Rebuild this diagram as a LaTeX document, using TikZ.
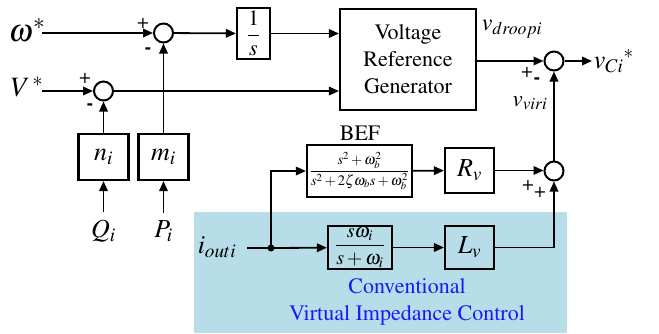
\documentclass[tikz,border=0pt]{standalone}
\usepackage{amsmath,amssymb}
\usepackage[T1]{fontenc}
\usepackage{mathptmx}
\usepackage{tikz}
\usetikzlibrary{arrows.meta}
\definecolor{vicbg}{HTML}{B7DEE8}
\definecolor{vicblue}{HTML}{1A1AF5}

\begin{document}
\begin{tikzpicture}[x=1pt, y=-1pt, line width=1.8pt,
  blk/.style={draw, line width=2.2pt, inner sep=0pt, align=center,
              font=\fontsize{22}{27}\selectfont},
  sum/.style={draw, circle, minimum size=19pt, inner sep=0pt, line width=2pt},
  sig/.style={-{Triangle[length=10pt, width=8.5pt]}},
  sgn/.style={inner sep=0pt, font=\fontsize{20}{20}\selectfont},
  lbl/.style={inner sep=1pt, font=\fontsize{26}{26}\selectfont}]

  \useasboundingbox (0,0) rectangle (659,333);

  % -- the shaded part: conventional virtual impedance ----------------------
  \fill[vicbg] (194,212) rectangle (567,333);
  \node[text=vicblue, align=center, font=\fontsize{22}{27}\selectfont] (victext)
    at (407,302) {Conventional\\Virtual Impedance Control};

  % -- droop part --------------------------------------------------------
  \node[lbl, font=\fontsize{32}{32}\selectfont] (wref) at (27,30) {$\omega^{*}$};
  \node[lbl, font=\fontsize{28}{28}\selectfont] (vref) at (27,87) {$V^{\,*}$};
  \coordinate (ws) at (42,33);
  \coordinate (vs) at (42,91);
  \node[sum] (sumw) at (163.5,33) {};
  \node[sum] (sumv) at (103.5,91) {};
  \node[blk, minimum width=33pt, minimum height=51pt, font=\fontsize{22}{22}\selectfont]
    (integ) at (253.5,33.5) {$\dfrac{1}{s}$};
  \node[blk, minimum width=136pt, minimum height=101pt] (vrg) at (408,59.5)
    {Voltage\\Reference\\Generator};
  \node[blk, minimum width=50pt, minimum height=46pt, font=\fontsize{26}{26}\selectfont]
    (nbox) at (103.5,157) {$n_i$};
  \node[blk, minimum width=50pt, minimum height=46pt, font=\fontsize{26}{26}\selectfont]
    (mbox) at (163.5,157) {$m_i$};
  \node[lbl] (qin) at (103.5,231) {$Q_i$};
  \node[lbl] (pin) at (163.5,231) {$P_i$};

  \draw[sig] (ws) -- (sumw);
  \draw[sig] (sumw) -- (integ);
  \draw[sig] (integ) -- (integ -| vrg.west);
  \draw[sig] (vs) -- (sumv);
  \draw[sig] (sumv) -- (sumv -| vrg.west);
  \draw[sig] (mbox) -- (sumw);
  \draw[sig] (nbox) -- (sumv);
  \draw[sig] ([yshift=6pt]qin.north) -- (nbox);
  \draw[sig] ([yshift=6pt]pin.north) -- (mbox);

  \node[sgn] (pw) at (143,23) {+};
  \node[sgn] (mw) at (148,51) {\textbf{-}};
  \node[sgn] (pv) at (85,78) {+};
  \node[sgn] (mv) at (90,107) {\textbf{-}};

  % -- virtual impedance part ---------------------------------------------
  \node[sum] (sumc) at (554,61) {};
  \node[sum] (sumr) at (554,171) {};
  \node[blk, minimum width=105pt, minimum height=52pt, font=\fontsize{14.5}{14.5}\selectfont]
    (bef) at (359.5,171)
    {$\dfrac{s^2+\omega_b^2}{s^2+2\zeta\omega_b s+\omega_b^2}$};
  \node[blk, minimum width=49pt, minimum height=45pt, font=\fontsize{26}{26}\selectfont]
    (rbox) at (469.5,170.5) {$R_v$};
  \node[blk, minimum width=64pt, minimum height=43pt, font=\fontsize{20}{20}\selectfont]
    (hpf) at (360,247.5) {$\dfrac{s\omega_i}{s+\omega_i}$};
  \node[blk, minimum width=49pt, minimum height=43pt, font=\fontsize{26}{26}\selectfont]
    (lbox) at (469.5,247.5) {$L_v$};
  \node[font=\fontsize{22}{22}\selectfont] (beflbl) at (360,133) {BEF};

  \node[lbl] (iout) at (217,247) {$i_{outi}$};
  \coordinate (is) at (247,248);
  \coordinate (split) at (271,248);
  \node[lbl, anchor=west] (vci) at (592,61) {${v_{Ci}}^{*}$};
  \node[lbl, font=\fontsize{24}{24}\selectfont] (vdroop) at (512,29) {$v_{droopi}$};
  \node[lbl, font=\fontsize{23}{23}\selectfont] (vvir) at (530,103) {$v_{viri}$};

  \draw (is) -- (split);
  \fill (split) circle (3.5);
  \draw[sig] (split) |- (bef);
  \draw[sig] (split) -- (hpf);
  \draw[sig] (bef) -- (rbox);
  \draw[sig] (rbox) -- (rbox -| sumr.west);
  \draw[sig] (hpf) -- (lbox);
  \draw[sig] (lbox) -| (sumr);
  \draw[sig] (sumr) -- (sumc);
  \draw[sig] (vrg.east |- sumc) -- (sumc);
  \draw[sig] (sumc) -- (vci);

  \node[sgn] (pc) at (527,72) {+};
  \node[sgn] (mc) at (537,81) {\textbf{-}};
  \node[sgn] (pr1) at (528,185) {+};
  \node[sgn] (pr2) at (540,192) {+};

\end{tikzpicture}
\end{document}
